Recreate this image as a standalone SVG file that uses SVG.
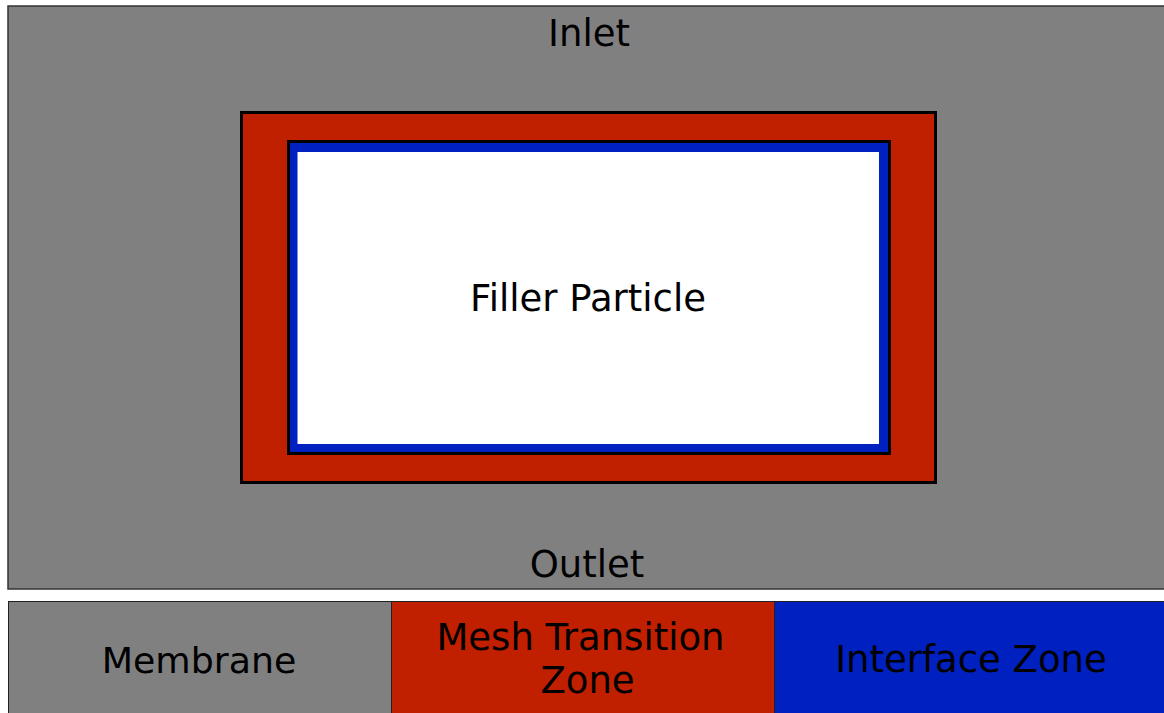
<svg xmlns="http://www.w3.org/2000/svg" width="1164" height="713" viewBox="0 0 1164 713">
<style>
text{font-family:"DejaVu Sans",Verdana,sans-serif;font-size:37px;fill:#000;text-anchor:middle}
.gray{fill:#808080}
.red{fill:#C01F00}
.blue{fill:#0020C0}
</style>
<rect x="0" y="0" width="1164" height="713" fill="#fff"/>
<g id="domain">
<rect x="8" y="6" width="1170" height="583" class="gray" stroke="#333" stroke-width="1.5"/>
<text x="589" y="46">Inlet</text>
<text x="587" y="577">Outlet</text>
</g>
<g id="mesh-transition-zone">
<rect x="241.5" y="112.5" width="694" height="370" class="red" stroke="#000" stroke-width="3"/>
</g>
<g id="interface-zone">
<rect x="288.5" y="141.5" width="601" height="312" class="blue" stroke="#000" stroke-width="3"/>
</g>
<g id="filler-particle">
<rect x="297.5" y="152" width="581.5" height="292" fill="#fff"/>
<text x="588" y="311">Filler Particle</text>
</g>
<g id="legend">
<g id="legend-membrane">
<rect x="8.5" y="601.5" width="383" height="120" class="gray" stroke="#222" stroke-width="1"/>
<text x="199" y="673" style="font-size:36.3px">Membrane</text>
</g>
<g id="legend-mesh">
<rect x="391.5" y="601.5" width="383" height="120" class="red" stroke="#222" stroke-width="1"/>
<text x="580.5" y="650">Mesh Transition</text>
<text x="587.5" y="693">Zone</text>
</g>
<g id="legend-interface">
<rect x="774.5" y="601.5" width="400" height="120" class="blue" stroke="#222" stroke-width="1"/>
<text x="971" y="672">Interface Zone</text>
</g>
</g>
<g id="connectors"/>
</svg>
